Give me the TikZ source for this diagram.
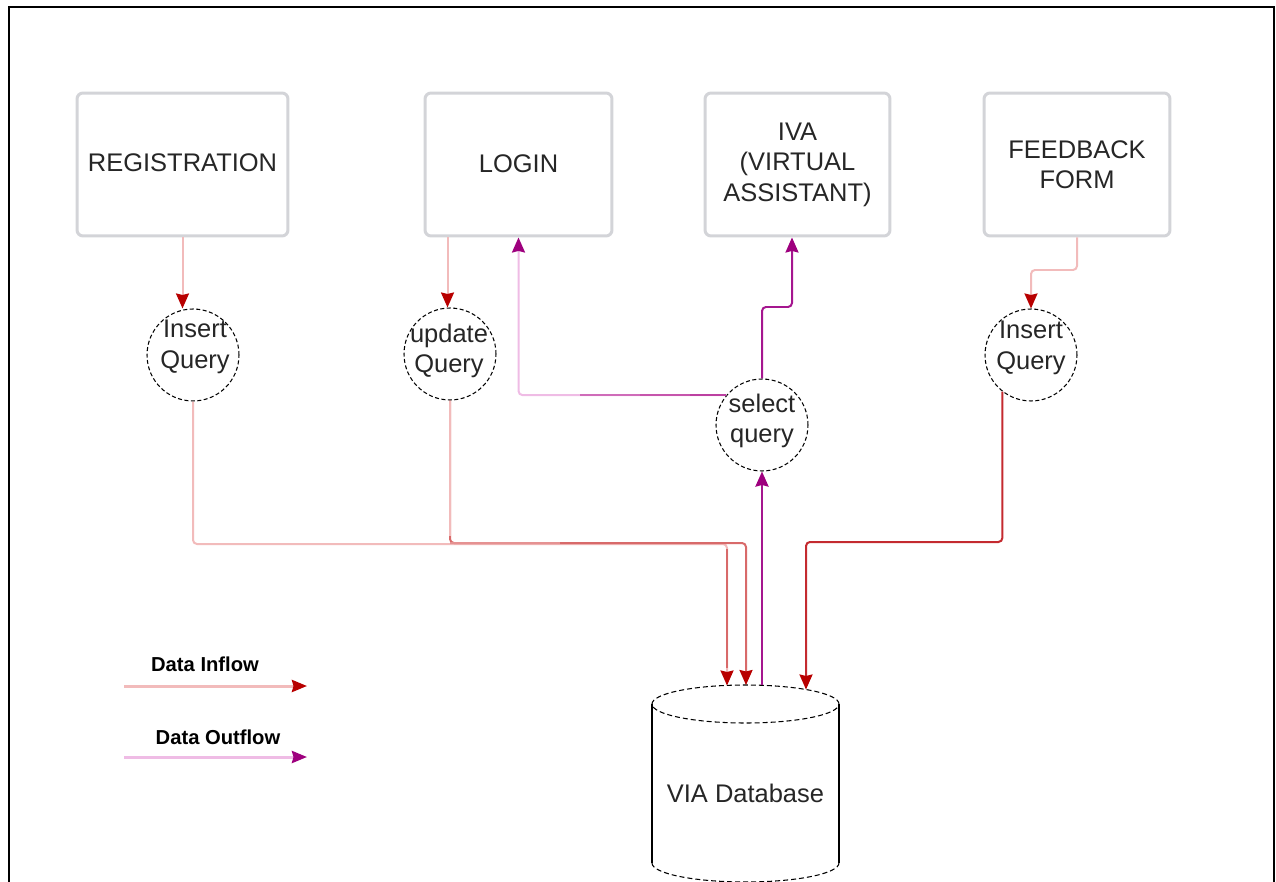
\documentclass[tikz,border=0pt]{standalone}
\usepackage{fontspec}
\setmainfont{Liberation Sans}
\usetikzlibrary{arrows.meta,calc}
\definecolor{boxgray}{HTML}{D3D4D8}
\definecolor{txt}{HTML}{262626}
\definecolor{inlight}{HTML}{F2BBBB}
\definecolor{inmid}{HTML}{D86A6A}
\definecolor{indark}{HTML}{C42A2F}
\definecolor{inhead}{HTML}{B80000}
\definecolor{outdark}{HTML}{A5168F}
\definecolor{outmid}{HTML}{C24AA6}
\definecolor{outlight}{HTML}{EFBCE5}
\definecolor{outhead}{HTML}{9E007E}
\begin{document}
\begin{tikzpicture}[x=0.02cm,y=-0.02cm,
  box/.style={draw=boxgray, line width=0.06cm, rounded corners=0.12cm,
    minimum height=2.86cm, align=center, text=txt,
    font=\fontsize{14.5}{17.3}\selectfont},
  query/.style={circle, draw=black, dash pattern=on 0.08cm off 0.05cm,
    line width=0.6pt, minimum size=1.84cm, inner sep=0pt},
  qtext/.style={align=center, inner sep=0pt, text=txt,
    font=\fontsize{14.5}{17.3}\selectfont},
  legtext/.style={inner sep=0pt, font=\fontsize{11.5}{13}\selectfont\bfseries},
  conn/.style={line width=0.04cm, rounded corners=0.08cm},
  inflow/.style={conn, -{Stealth[length=0.3cm,width=0.26cm,inset=0.03cm,color=inhead]}},
  outflow/.style={conn, -{Stealth[length=0.3cm,width=0.26cm,inset=0.03cm,color=outhead]}},
  dbline/.style={line width=0.6pt, draw=black},
  dbdash/.style={line width=0.6pt, draw=black, dash pattern=on 0.1cm off 0.06cm},
]
\useasboundingbox (0,0) rectangle (1276,882);
% frame
\draw[line width=0.04cm] (9,882) -- (9,7) -- (1274,7) -- (1274,882);

% boxes
\node[box, minimum width=4.22cm] (reg) at (182.5,164.5) {\raisebox{0.08cm}{REGISTRATION}};
\node[box, minimum width=3.74cm] (login) at (518.5,164.5) {\raisebox{0.05cm}{LOGIN}};
\node[box, minimum width=3.70cm] (iva) at (797.5,164.5) {IVA\\(VIRTUAL\\ASSISTANT)};
\node[box, minimum width=3.72cm] (fb) at (1077,164.5) {FEEDBACK\\FORM};

% query circles
\node[query] (q1) at (193,355) {};
\node[query] (q2) at (450,354) {};
\node[query] (sel) at (762,425) {};
\node[query] (q4) at (1031,355) {};
\node[qtext] (q1t) at (195,347) {Insert\\Query};
\node[qtext] (q2t) at (449,351) {update\\Query};
\node[qtext] (selt) at (762,421) {select\\query};
\node[qtext] (q4t) at (1031,348) {Insert\\Query};

% database
\draw[dbline] (652,704) -- (652,863);
\draw[dbline] (839,704) -- (839,863);
\draw[dbdash] (745.5,704) ellipse [x radius=1.87cm, y radius=0.38cm];
\draw[dbdash] (652,863) arc[start angle=180, end angle=360, x radius=1.87cm, y radius=0.38cm];
\node[qtext] (db) at (745.5,793) {VIA Database};
\coordinate (dbin1) at (727,685.5);
\coordinate (dbin2) at (746,685);
\coordinate (dbout) at (762,685.3);
\coordinate (dbin3) at (806,689.5);

% inflow connectors
\draw[inflow, draw=inlight] (reg.south) -- (reg.south |- q1.north);
\coordinate (lout) at ([xshift=0.48cm]login.south west);
\draw[inflow, draw=inlight] (lout) -- (lout |- q2.north);
\draw[inflow, draw=inlight] (fb.south) -- (fb.south |- 0,270) -| (q4.north);

\draw[inflow, draw=inlight] (q1.south) -- (q1.south |- 0,544) -| (dbin1);
\draw[conn, draw=inmid] (dbin1 |- 0,549) -- (dbin1 |- 0,668);
\draw[inflow, draw=inmid] (q2.south) -- (q2.south |- 0,543) -| (dbin2);
\draw[conn, draw=inlight] (q2.south) -- (q2.south |- 0,536);
\draw[conn, draw=inmid!50!inlight] (q2.south |- 0,543) -- (560,543);
\draw[inflow, draw=indark] (q4.232) -- (q4.232 |- 0,542) -| (dbin3);

% outflow connectors
\draw[outflow, draw=outdark, line width=0.05cm] (dbout) -- (sel.south);
\draw[outflow, draw=outlight] (sel.140) -| (login.south);
\draw[conn, draw=outlight!30!outmid] (sel.140) -- (sel.140 -| 580,0);
\draw[conn, draw=outlight!10!outmid] (sel.140) -- (sel.140 -| 640,0);
\draw[conn, draw=outmid!80!outdark] (sel.140) -- (sel.140 -| 690,0);
\draw[outflow, draw=outdark] (sel.north) -- (sel.north |- 0,307) -| ([xshift=-0.11cm]iva.south);

% legend
\node[legtext] (legin) at (205,664) {Data Inflow};
\node[legtext] (legout) at (218,737) {Data Outflow};
\coordinate (li1) at (124,686);
\coordinate (li2) at (307,686);
\coordinate (lo1) at (124,757);
\coordinate (lo2) at (307,757);
\draw[line width=0.06cm, draw=inlight, -{Stealth[length=0.3cm,width=0.24cm,inset=0.03cm,color=inhead]}] (li1) -- (li2);
\draw[line width=0.06cm, draw=outlight, -{Stealth[length=0.3cm,width=0.24cm,inset=0.03cm,color=outhead]}] (lo1) -- (lo2);
\end{tikzpicture}
\end{document}
